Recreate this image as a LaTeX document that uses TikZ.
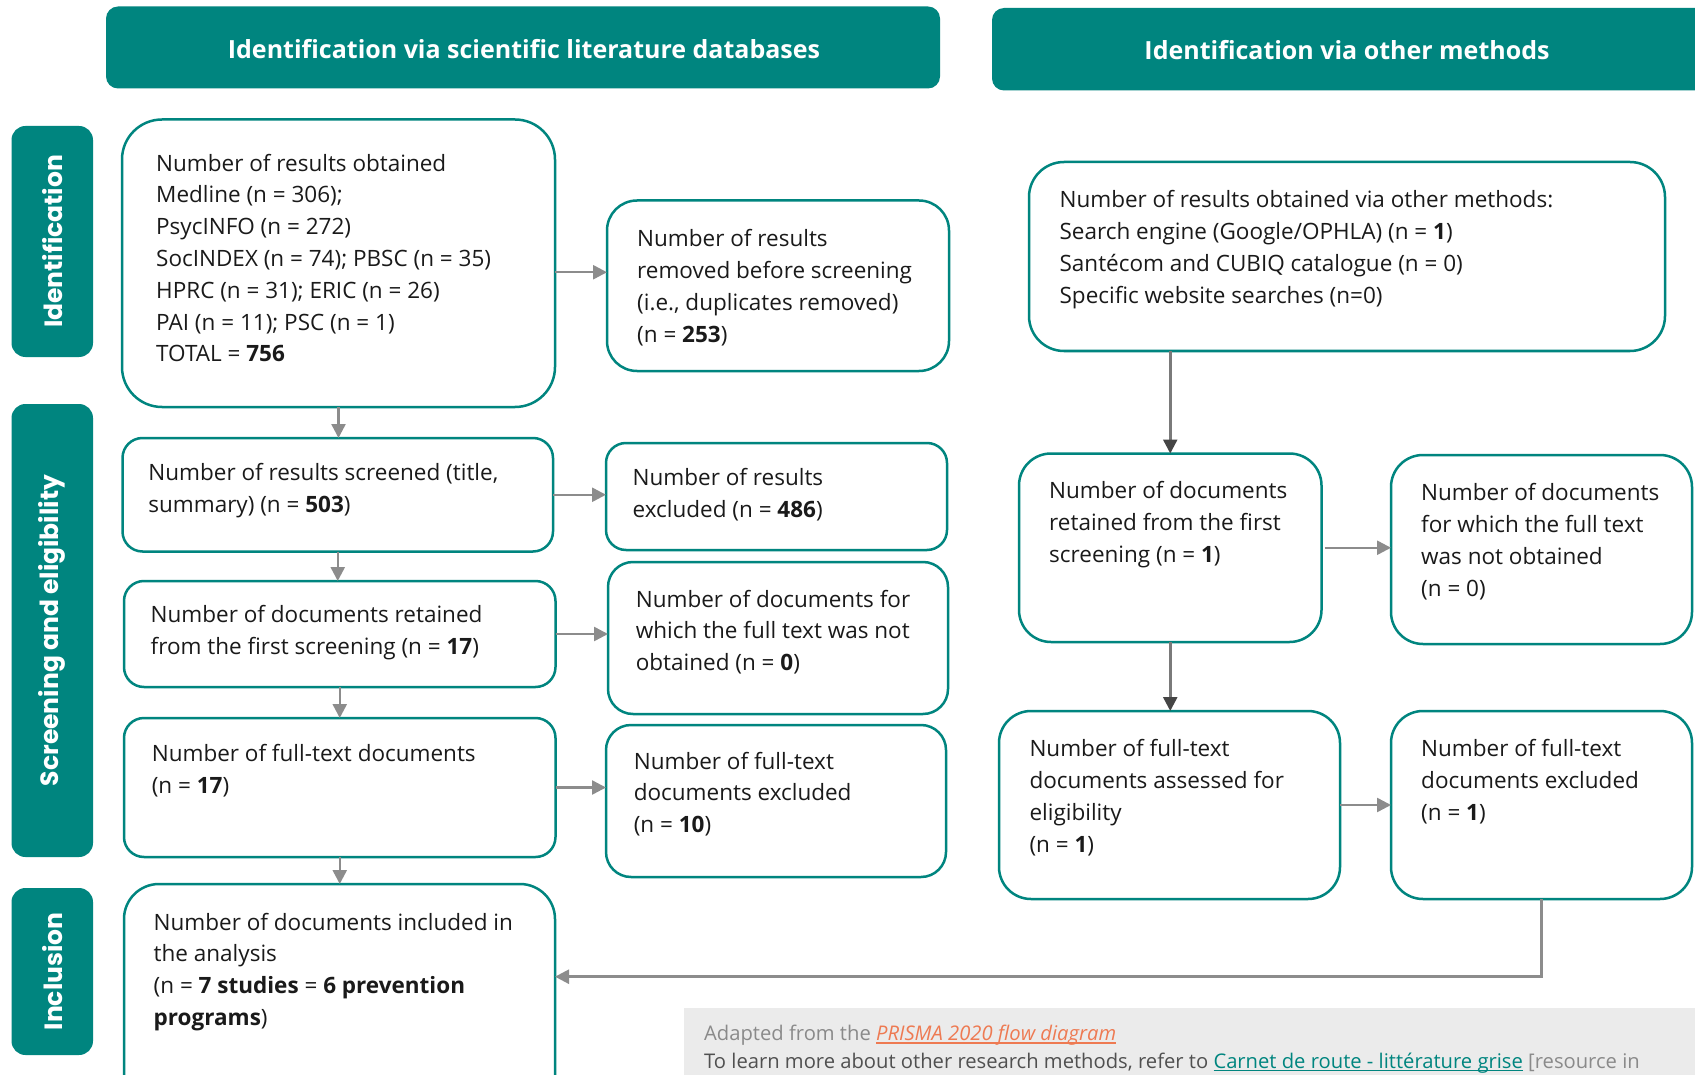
\documentclass[tikz,border=0pt]{standalone}
\usepackage{fontspec}
\setmainfont{Open Sans}
\newfontfamily\sidefont{Poppins}
\usetikzlibrary{arrows.meta}
\definecolor{pteal}{HTML}{00857F}
\definecolor{agray}{HTML}{8C8C8C}
\definecolor{agraytwo}{HTML}{7A7A7A}
\definecolor{adark}{HTML}{454545}
\definecolor{fnbg}{HTML}{EBEBEB}
\definecolor{fngray}{HTML}{8A8A8A}
\definecolor{fndark}{HTML}{505050}
\definecolor{fnorange}{HTML}{EE7A52}
\definecolor{txtc}{HTML}{1A1A1A}
\newcommand\mkbox[6]{%
  \node[pbox, rounded corners=#6pt, minimum width={#4pt-#2pt}, minimum height={#5pt-#3pt}]
    (#1) at ({(#2+#4)/2},{(#3+#5)/2}) {};}
\newcommand\myuline[1]{\setbox0\hbox{#1}\rlap{\rule[-3.2pt]{\wd0}{1.6pt}}\box0}
\tikzset{
  pbox/.style={draw=pteal, line width=2.5pt, fill=white, inner sep=0pt, outer sep=0pt},
  hdr/.style={fill=pteal, draw=none, inner sep=0pt, outer sep=0pt, rounded corners=12pt},
  sidebar/.style={fill=pteal, draw=none, inner sep=0pt, outer sep=0pt, rounded corners=14pt},
  txt/.style={inner sep=0pt, align=left, anchor=base west, text=txtc,
              font=\fontsize{22.5}{31.8}\selectfont},
  hdrtxt/.style={inner sep=0pt, anchor=base, text=white, font=\bfseries\fontsize{25}{30}\selectfont},
  sidetxt/.style={inner sep=0pt, rotate=90, text=white, font=\sidefont\bfseries\fontsize{25}{30}\selectfont},
  arr/.style={draw=agray, line width=2.5pt, -{Triangle[length=14pt,width=14pt]}},
  darr/.style={draw=agraytwo, line width=2.5pt, -{Triangle[length=14pt,width=14pt,color=adark]}},
}
\begin{document}
\begin{tikzpicture}[x=1pt,y=-1pt]
\path[use as bounding box, clip] (0,0) rectangle (1695,1075);
\fill[white] (0,0) rectangle (1695,1075);

% headers
\node[hdr, minimum width=834pt, minimum height=82pt] (HL) at (523,47.5) {};
\node[hdr, minimum width=740pt, minimum height=82.5pt] (HR) at (1362,49.25) {};
\node[hdrtxt] (HLt) at (524,58.3) {Identification via scientific literature databases};
\node[hdrtxt] (HRt) at (1347,60) {Identification via other methods};

% side bars
\node[sidebar, minimum width=81.5pt, minimum height=231pt] (S1) at (52.25,241.5) {};
\node[sidebar, minimum width=81.5pt, minimum height=453pt] (S2) at (52.25,630.5) {};
\node[sidebar, minimum width=81.5pt, minimum height=167pt] (S3) at (52.25,971.5) {};
\node[sidetxt] (S1t) at (S1.center) {Identification};
\node[sidetxt] (S2t) at (S2.center) {Screening and eligibility};
\node[sidetxt] (S3t) at (S3.center) {Inclusion};

% boxes
\mkbox{A}{122}{119.5}{555}{407}{40}
\mkbox{B}{607}{200.5}{949}{371}{30}
\mkbox{C}{122.5}{438}{553}{551.5}{20}
\mkbox{D}{606}{443}{947}{550}{20}
\mkbox{E}{124}{581}{555.5}{687}{20}
\mkbox{F}{608}{562}{948}{714}{25}
\mkbox{G}{124}{718}{555.5}{857}{20}
\mkbox{H}{606}{725}{946}{877}{25}
\mkbox{I}{124}{884}{555}{1110}{35}
\mkbox{J}{1029}{162}{1665}{351}{35}
\mkbox{K}{1019}{453.5}{1321.5}{642}{32}
\mkbox{L}{1391}{455}{1692}{644}{32}
\mkbox{M}{999}{711}{1340}{899}{32}
\mkbox{N}{1391}{711}{1692}{899}{32}

% texts (anchor = baseline of the last line)
\node[txt] (At) at (156,361.8) {Number of results obtained\\Medline (n = 306);\\PsycINFO (n = 272)\\SocINDEX (n = 74); PBSC (n = 35)\\HPRC (n = 31); ERIC (n = 26)\\PAI (n = 11); PSC (n = 1)\\TOTAL = \textbf{756}};
\node[txt] (Bt) at (637,342) {Number of results\\removed before screening\\(i.e., duplicates removed)\\(n = \textbf{253})};
\node[txt] (Ct) at (148.2,512.3) {Number of results screened (title,\\summary) (n = \textbf{503})};
\node[txt] (Dt) at (632.5,517) {Number of results\\excluded (n = \textbf{486})};
\node[txt] (Et) at (150.5,654.5) {Number of documents retained\\from the first screening (n = \textbf{17})};
\node[txt] (Ft) at (635.6,670.6) {Number of documents for\\which the full text was not\\obtained (n = \textbf{0})};
\node[txt] (Gt) at (151.6,793.7) {Number of full-text documents\\(n = \textbf{17})};
\node[txt] (Ht) at (633.6,832.6) {Number of full-text\\documents excluded\\(n = \textbf{10})};
\node[txt] (It) at (153.5,1025.4) {Number of documents included in\\the analysis\\(n = \textbf{7 studies} = \textbf{6 prevention}\\\textbf{programs})};
\node[txt] (Jt) at (1059.4,303.4) {Number of results obtained via other methods:\\Search engine (Google/OPHLA) (n = \textbf{1})\\Santécom and CUBIQ catalogue (n = 0)\\Specific website searches (n=0)};
\node[txt] (Kt) at (1049,562.3) {Number of documents\\retained from the first\\screening (n = \textbf{1})};
\node[txt] (Lt) at (1421,596) {Number of documents\\for which the full text\\was not obtained\\(n = 0)};
\node[txt] (Mt) at (1029.3,852.1) {Number of full-text\\documents assessed for\\eligibility\\(n = \textbf{1})};
\node[txt] (Nt) at (1421,820.3) {Number of full-text\\documents excluded\\(n = \textbf{1})};

% connectors
\draw[arr] ([yshift=-9pt]A.east) -- ([yshift=-9pt]A.east -| B.west);
\draw[arr] (C.east) -- (C.east -| D.west);
\draw[arr] (E.east) -- (E.east -| F.west);
\draw[arr] (G.east) -- (G.east -| H.west);
\draw[arr] (A.south) -- (A.south |- C.north);
\draw[arr] (C.south) -- (C.south |- E.north);
\draw[arr] (E.south) -- (E.south |- G.north);
\draw[arr] (G.south) -- (G.south |- I.north);
\draw[darr] (J.south -| K.north) -- (K.north);
\draw[darr] (K.south) -- (K.south |- M.north);
\draw[arr] ([xshift=3pt]K.east) -- (K.east -| L.west);
\draw[arr] (M.east) -- (M.east -| N.west);
\draw[arr] (N.south) |- ([yshift=20.3pt]I.east);

% footnote
\node[fill=fnbg, minimum width=1040pt, minimum height=100pt, inner sep=0pt, anchor=north west] (FN) at (684,1008) {};
\node[inner sep=0pt, align=left, anchor=base west, font=\fontsize{20.2}{27.5}\selectfont] (FNt) at (704,1068)
 {{\color{fngray}Adapted from the }\textcolor{fnorange}{\myuline{\itshape PRISMA 2020 flow diagram}}\\
  {\color{fndark}To learn more about other research methods, refer to }\textcolor{pteal}{\myuline{Carnet de route - littérature grise}}\textcolor{fngray}{\ [resource in}};
\end{tikzpicture}
\end{document}
